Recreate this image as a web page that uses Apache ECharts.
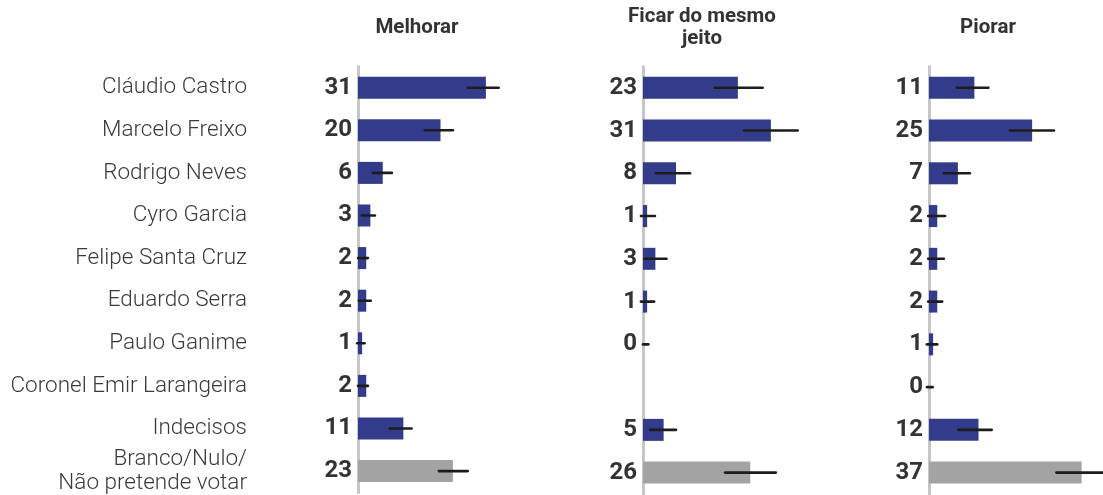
<!DOCTYPE html>
<html>
<head>
<meta charset="utf-8">
<script src="https://cdn.jsdelivr.net/npm/echarts@6/dist/echarts.min.js"></script>
<style>
  html, body { margin: 0; padding: 0; background: #fff; }
  #chart { width: 1103px; height: 495px; }
</style>
</head>
<body>
<div id="chart"></div>
<script>
// Candidates / answer options (rows, top to bottom)
const categories = [
  'Cláudio Castro',
  'Marcelo Freixo',
  'Rodrigo Neves',
  'Cyro Garcia',
  'Felipe Santa Cruz',
  'Eduardo Serra',
  'Paulo Ganime',
  'Coronel Emir Larangeira',
  'Indecisos',
  'Branco/Nulo/\nNão pretende votar'
];

// Panel headings
const panelTitles = ['Melhorar', 'Ficar do mesmo\njeito', 'Piorar'];

// Vote share (%) in each group
const melhorar = [31, 20, 6, 3, 2, 2, 1, 2, 11, 23];
const ficar    = [23, 31, 8, 1, 3, 1, 0, null, 5, 26];
const piorar   = [11, 25, 7, 2, 2, 2, 1, 0, 12, 37];

// Margin-of-error intervals (low / high, %)
const melhorarLow  = [26.6, 16.2, 3.6, 0.9, 0.0, 0.2, -0.2, 0.0, 7.7, 19.6];
const melhorarHigh = [34.1, 23.0, 8.2, 4.1, 2.4, 3.1, 1.6, 2.4, 13.0, 26.6];
const ficarLow     = [17.4, 24.5, 3.1, -0.5, 0.3, -0.5, 0.0, null, 1.7, 19.9];
const ficarHigh    = [29.0, 37.5, 11.4, 2.9, 5.7, 2.7, 1.3, null, 8.0, 32.2];
const piorarLow    = [6.7, 19.6, 3.6, -0.2, -0.2, -0.2, -0.5, -0.5, 7.1, 30.9];
const piorarHigh   = [14.4, 30.3, 9.9, 3.9, 3.6, 3.2, 2.0, 0.9, 15.2, 43.0];

const panels = [
  { values: melhorar, low: melhorarLow, high: melhorarHigh },
  { values: ficar,    low: ficarLow,    high: ficarHigh },
  { values: piorar,   low: piorarLow,   high: piorarHigh }
];

const BLUE = '#333c8b';
const GRAY = '#a3a3a3';
const gridLefts = [358, 643, 929];
const gridTop = 66.4;
const gridHeight = 427.6;
const gridWidth = 165;
const xMax = 40;

const grid = [], xAxis = [], yAxis = [], series = [], graphic = [];

panels.forEach((p, i) => {
  grid.push({ left: gridLefts[i], top: gridTop, width: gridWidth, height: gridHeight, containLabel: false });
  xAxis.push({ type: 'value', gridIndex: i, min: 0, max: xMax, show: false });
  yAxis.push({
    type: 'category',
    gridIndex: i,
    data: categories,
    inverse: true,
    offset: 1.5,
    axisLine: { show: true, lineStyle: { color: '#c6c6c6', width: 3 } },
    axisTick: { show: false },
    splitLine: { show: false },
    axisLabel: {
      show: i === 0,
      margin: 109.5,
      fontFamily: 'Roboto',
      fontWeight: 300,
      fontSize: 22.5,
      lineHeight: 24,
      color: '#3a3a3a',
      align: 'right'
    }
  });

  const last = p.values.length - 1;
  series.push({
    type: 'bar',
    xAxisIndex: i,
    yAxisIndex: i,
    barWidth: 22,
    silent: true,
    data: p.values.map((v, j) => v == null ? '-' : {
      value: v,
      itemStyle: { color: j === last ? GRAY : BLUE }
    }),
    label: {
      show: true,
      position: 'left',
      distance: 6,
      formatter: '{c}',
      fontFamily: 'Roboto',
      fontWeight: 'bold',
      fontSize: 24,
      color: '#333'
    },
    z: 3
  });

  const errData = [];
  p.low.forEach((lo, j) => {
    if (lo != null && p.high[j] != null) errData.push([lo, p.high[j], j]);
  });
  series.push({
    type: 'custom',
    xAxisIndex: i,
    yAxisIndex: i,
    clip: false,
    silent: true,
    z: 5,
    encode: { x: [0, 1], y: 2 },
    data: errData,
    renderItem: function (params, api) {
      const row = api.value(2);
      const a = api.coord([api.value(0), row]);
      const b = api.coord([api.value(1), row]);
      return {
        type: 'line',
        shape: { x1: a[0], y1: a[1], x2: b[0], y2: b[1] },
        style: { stroke: '#1c1c1c', lineWidth: 2.6, lineCap: 'round' }
      };
    }
  });

  graphic.push({
    type: 'text',
    x: gridLefts[i] + 59,
    y: 28,
    style: {
      text: panelTitles[i],
      textAlign: 'center',
      textVerticalAlign: 'middle',
      fontFamily: 'Roboto',
      fontWeight: 'bold',
      fontSize: 20.5,
      lineHeight: 22,
      fill: '#333'
    }
  });
});

const chart = echarts.init(document.getElementById('chart'), null, { renderer: 'canvas' });
chart.setOption({
  animation: false,
  backgroundColor: '#fff',
  grid, xAxis, yAxis, series, graphic
});
</script>
</body>
</html>
